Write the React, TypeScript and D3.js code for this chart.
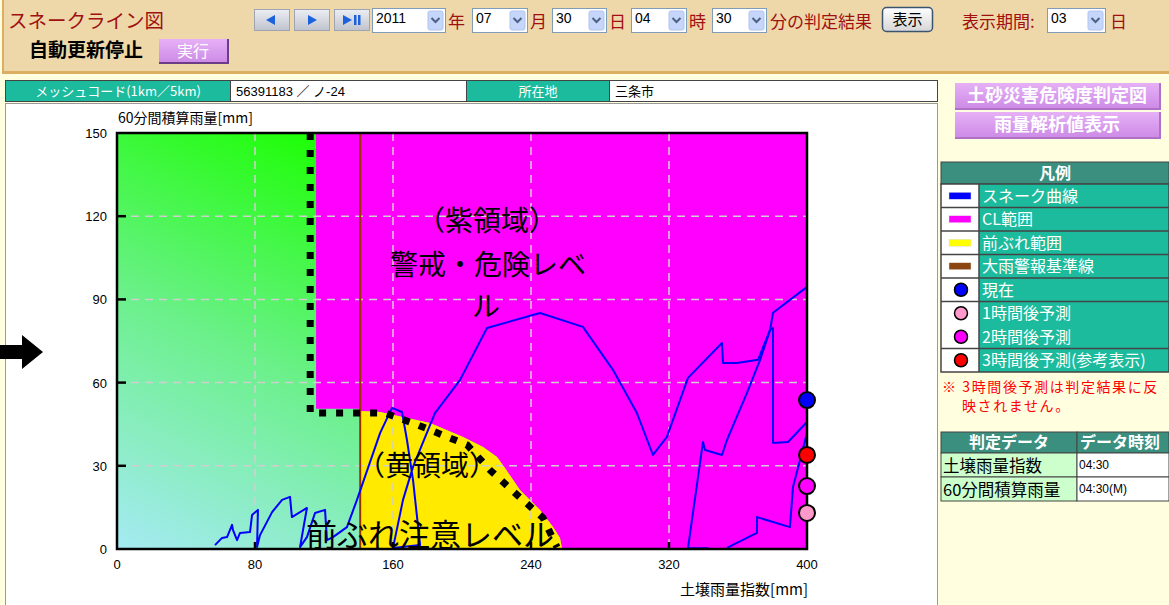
import * as d3 from 'd3';

// axis ticks and grid
const xTicks = [0, 80, 160, 240, 320, 400];
const yTicks = [0, 30, 60, 90, 120, 150];
const gridX = [80, 160, 240, 320];
const gridY = [30, 60, 90, 120];

// snake curve: [土壌雨量指数, 60分間積算雨量]
const snakeMain: [number, number][] = [
  [56.8, 1.4], [60.9, 4.0], [63.8, 4.3], [66.7, 8.7], [67.2, 6.9], [69.6, 3.2], [71.3, 5.8],
  [77.1, 6.1], [78.3, 12.3], [81.7, 14.1], [81.2, 0.7], [82.9, 5.0], [89.9, 13.3], [95.7, 17.7],
  [100.3, 18.8], [101.4, 11.5], [110.1, 14.8], [106.1, 0.7], [110.1, 4.3], [114.8, 13.0],
  [120.6, 14.1], [121.7, 3.2], [125.2, 4.3], [133.3, 7.9], [139.1, 17.7], [152.5, 41.8],
  [159.4, 50.9], [165.2, 49.4], [168.1, 39.3], [171.6, 24.9], [175.7, 1.4], [160.0, 0.4],
  [165.8, 17.7], [171.6, 29.6], [184.3, 49.0], [198.8, 60.9], [214.5, 79.7], [245.2, 85.1],
  [270.1, 80.1], [287.5, 64.6], [301.4, 49.0], [310.7, 33.9], [318.8, 40.4], [326.4, 53.7],
  [331.0, 61.7], [350.7, 74.3], [351.3, 67.1], [359.4, 67.1], [371.6, 68.2], [378.6, 79.0],
  [380.3, 85.2], [400, 94.5],
];
const snakeRightA: [number, number][] = [
  [343, 0.3], [331.0, 0.3], [339.7, 38.6], [340.9, 35.7], [350.7, 33.9], [353.6, 39.3],
  [365.2, 56.3], [372.8, 68.2], [378.6, 79.0], [380.3, 79.7], [380.3, 38.2], [389.0, 38.6],
  [400, 45.8],
];
const snakeRightB: [number, number][] = [
  [353.6, 0.4], [371.0, 5.8], [371.0, 11.5], [390.1, 7.9], [391.9, 22.4], [400, 41.8],
];

// CL line (dotted) and edge of the yellow area
const clLine: [number, number][] = [
  [112, 150], [112, 49], [155.4, 49], [174.5, 44.7], [193, 40], [203, 37.5], [216.2, 28.5],
  [231.9, 19.5], [247, 11.2], [255.1, 0.6],
];
const yellowEdge: [number, number][] = [
  [141, 49.8], [152.5, 49.4], [181.4, 45.4], [200.6, 40.4], [212.2, 36.8], [220.3, 33.2],
  [224.9, 29.2], [233.6, 21.3], [245.2, 14.1], [252.8, 7.9], [256.8, 4.0], [258, 0],
];
const clLeft = 115.4;
const clBottom = 50.6;
const heavyRainLine = 141;

// current value and forecasts (clamped to the right edge)
const markerKeys = ['now', 'h3', 'h2', 'h1'];
const markerX = [400, 400, 400, 400];
const markerY = [53.7, 33.9, 22.7, 13.0];
const markerColor: Record<string, string> = { now: '#0000ff', h3: '#ff0000', h2: '#ff00ff', h1: '#ff99cc' };

// legend
const legendLabels = ['スネーク曲線', 'CL範囲', '前ぶれ範囲', '大雨警報基準線', '現在', '1時間後予測', '2時間後予測', '3時間後予測(参考表示)'];
const legendKinds = ['rect', 'rect', 'rect', 'rect', 'dot', 'dot', 'dot', 'dot'];
const legendColors = ['#0000ff', '#ff00ff', '#ffff00', '#8b4513', '#0000ff', '#ff99cc', '#ff00ff', '#ff0000'];

// judgement table
const judgeNames = ['土壌雨量指数', '60分間積算雨量'];
const judgeTimes = ['04:30', '04:30(M)'];

const JP = "'Noto Sans CJK JP', sans-serif";
const LAT = "'Liberation Sans', 'Noto Sans CJK JP', sans-serif";
const DARKRED = '#a01010';
const TEAL = '#1cbb9d';

const plot = { left: 117, right: 807, top: 133, bottom: 549 };
const x = d3.scaleLinear().domain([0, 400]).range([plot.left, plot.right]);
const y = d3.scaleLinear().domain([0, 150]).range([plot.bottom, plot.top]);
const line = d3.line<[number, number]>().x(d => x(d[0])).y(d => y(d[1]));

const Select = ({ px, py, w, v }: { px: number; py: number; w: number; v: string }) => (
  <g>
    <rect x={px + 0.5} y={py + 0.5} width={w} height={24} fill="#fff" stroke="#7f9db9" />
    <rect x={px + w - 17} y={py + 3} width={15} height={19} rx={2} fill="#c6d6fb" stroke="#b0c4ee" />
    <path d={`M${px + w - 13.5},${py + 10} l4,4 l4,-4`} stroke="#4d6185" strokeWidth={2} fill="none" />
    <text x={px + 4} y={py + 15} fontSize={14} fontFamily={LAT}>{v}</text>
  </g>
);

const NavButton = ({ px, kind }: { px: number; kind: string }) => (
  <g>
    <rect x={px + 0.5} y={9.5} width={35} height={21} fill="url(#navGrad)" stroke="#9ea4b2" />
    {kind === 'prev' && <path d={`M${px + 12},20 l9,-5 v10 z`} fill="#1b62dc" />}
    {kind === 'next' && <path d={`M${px + 14},15 l9,5 l-9,5 z`} fill="#1b62dc" />}
    {kind === 'last' && (
      <g fill="#1b62dc">
        <path d={`M${px + 9},15 l9,5 l-9,5 z`} />
        <rect x={px + 20} y={15} width={2.5} height={10} />
        <rect x={px + 24} y={15} width={2.5} height={10} />
      </g>
    )}
  </g>
);

export default function App() {
  const magenta: [number, number][] = [
    [clLeft, 150], [400, 150], [400, 0],
    ...yellowEdge.slice().reverse(),
    [heavyRainLine, clBottom], [clLeft, clBottom],
  ];
  const yellow: [number, number][] = [[heavyRainLine, 0], ...yellowEdge];
  const legendTop = 184;
  const rowH = 23.5;

  return (
    <svg width={1169} height={605} style={{ position: 'absolute', left: 0, top: 0 }} fontFamily={JP}>
      <defs>
        <linearGradient id="greenGrad" gradientUnits="userSpaceOnUse" x1={117} y1={560} x2={330} y2={133}>
          <stop offset="0" stopColor="#a8eaf8" />
          <stop offset="0.5" stopColor="#6cf08c" />
          <stop offset="1" stopColor="#1aff00" />
        </linearGradient>
        <linearGradient id="navGrad" x1="0" y1="0" x2="0" y2="1">
          <stop offset="0" stopColor="#eceef3" />
          <stop offset="1" stopColor="#bfc3cd" />
        </linearGradient>
        <linearGradient id="btnGrad" x1="0" y1="0" x2="0" y2="1">
          <stop offset="0" stopColor="#ffffff" />
          <stop offset="1" stopColor="#d6d6d6" />
        </linearGradient>
        <linearGradient id="purpleGrad" x1="0" y1="0" x2="0" y2="1">
          <stop offset="0" stopColor="#e6b0f6" />
          <stop offset="1" stopColor="#cc8ae6" />
        </linearGradient>
        <clipPath id="plotClip">
          <rect x={plot.left} y={plot.top} width={plot.right - plot.left} height={plot.bottom - plot.top} />
        </clipPath>
      </defs>

      {/* page */}
      <rect width={1169} height={605} fill="#ffffe0" />

      {/* header */}
      <rect x={2} y={0} width={1167} height={72} fill="#eed8aa" />
      <line x1={3} y1={0} x2={3} y2={73} stroke="#dcae62" strokeWidth={2} />
      <line x1={2} y1={72.5} x2={1169} y2={72.5} stroke="#dcae62" strokeWidth={3} />
      <text x={8} y={28} fontSize={19.5} fill={DARKRED}>スネークライン図</text>
      <NavButton px={254} kind="prev" />
      <NavButton px={294} kind="next" />
      <NavButton px={334} kind="last" />
      <Select px={372} py={8} w={73} v="2011" />
      <text x={448} y={28} fontSize={17} fill={DARKRED}>年</text>
      <Select px={472} py={8} w={55} v="07" />
      <text x={530} y={28} fontSize={17} fill={DARKRED}>月</text>
      <Select px={552} py={8} w={54} v="30" />
      <text x={609} y={28} fontSize={17} fill={DARKRED}>日</text>
      <Select px={631} py={8} w={55} v="04" />
      <text x={689} y={28} fontSize={17} fill={DARKRED}>時</text>
      <Select px={712} py={8} w={54} v="30" />
      <text x={770} y={28} fontSize={17} fill={DARKRED}>分の判定結果</text>
      <rect x={882.5} y={7.5} width={50} height={24} rx={4} fill="url(#btnGrad)" stroke="#3a5470" strokeWidth={1.5} />
      <text x={907.5} y={25} fontSize={15} textAnchor="middle">表示</text>
      <text x={962} y={28} fontSize={17} fill={DARKRED}>表示期間:</text>
      <Select px={1047} py={8} w={58} v="03" />
      <text x={1110} y={28} fontSize={17} fill={DARKRED}>日</text>
      <text x={29} y={57} fontSize={19} fontWeight="bold">自動更新停止</text>
      <rect x={159} y={39} width={69} height={24} fill="url(#purpleGrad)" />
      <path d="M159,63 h69 v-24" fill="none" stroke="#6b3d86" strokeWidth={2} />
      <text x={193} y={57} fontSize={16} fill="#fff" textAnchor="middle">実行</text>

      {/* info row */}
      <rect x={5.5} y={80.5} width={225} height={21} fill={TEAL} stroke="#444" />
      <text x={118} y={96} fontSize={13} fill="#fff" textAnchor="middle">メッシュコード(1km／5km)</text>
      <rect x={230.5} y={80.5} width={236} height={21} fill="#fff" stroke="#444" />
      <text x={236} y={96} fontSize={13} fontFamily={LAT}>56391183 ／ ノ-24</text>
      <rect x={466.5} y={80.5} width={143} height={21} fill={TEAL} stroke="#444" />
      <text x={538} y={96} fontSize={13} fill="#fff" textAnchor="middle">所在地</text>
      <rect x={609.5} y={80.5} width={328} height={21} fill="#fff" stroke="#444" />
      <text x={615} y={96} fontSize={13}>三条市</text>

      {/* chart panel */}
      <rect x={5.5} y={103.5} width={932} height={505} fill="#fff" stroke="#999" />
      <path d="M0,345 H22 V335 L43,352 L22,369 V359 H0 Z" fill="#000" />

      {/* regions */}
      <rect x={plot.left} y={plot.top} width={plot.right - plot.left} height={plot.bottom - plot.top} fill="url(#greenGrad)" />
      <path d={line(magenta) + 'Z'} fill="#ff00ff" />
      <path d={line(yellow) + 'Z'} fill="#ffea00" />

      {/* grid */}
      {gridX.map(v => (
        <line key={'gx' + v} x1={x(v)} x2={x(v)} y1={plot.top} y2={plot.bottom} stroke="#cfcfcf" strokeWidth={1.5} strokeDasharray="8,6" />
      ))}
      {gridY.map(v => (
        <line key={'gy' + v} x1={plot.left} x2={plot.right} y1={y(v)} y2={y(v)} stroke="#cfcfcf" strokeWidth={1.5} strokeDasharray="8,6" />
      ))}

      {/* heavy rain warning line */}
      <line x1={x(heavyRainLine)} x2={x(heavyRainLine)} y1={plot.top} y2={plot.bottom} stroke="#993300" strokeWidth={2} />

      {/* snake curve */}
      <g clipPath="url(#plotClip)" fill="none" stroke="#0000ff" strokeWidth={2} strokeLinejoin="round">
        <path d={line(snakeMain) ?? ''} />
        <path d={line(snakeRightA) ?? ''} />
        <path d={line(snakeRightB) ?? ''} />
      </g>

      {/* CL line */}
      <path d={line(clLine) ?? ''} fill="none" stroke="#000" strokeWidth={7} strokeDasharray="7,10" />

      {/* region labels */}
      <g fontSize={28} textAnchor="middle" fill="#000">
        <text x={487} y={231}>（紫領域）</text>
        <text x={488} y={275}>警戒・危険レベ</text>
        <text x={486} y={317}>ル</text>
        <text x={427} y={476}>（黄領域）</text>
        <text x={430} y={546} fontSize={31}>前ぶれ注意レベル</text>
      </g>

      {/* frame and ticks */}
      <rect x={plot.left} y={plot.top} width={plot.right - plot.left} height={plot.bottom - plot.top} fill="none" stroke="#000" strokeWidth={2.5} />
      {yTicks.slice(1, -1).map(v => (
        <line key={'ty' + v} x1={plot.left} x2={plot.left + 9} y1={y(v)} y2={y(v)} stroke="#000" strokeWidth={2.5} />
      ))}
      {xTicks.slice(1, -1).map(v => (
        <line key={'tx' + v} x1={x(v)} x2={x(v)} y1={plot.bottom} y2={plot.bottom - 7} stroke="#000" strokeWidth={2.5} />
      ))}
      <g fontFamily={LAT} fontSize={13} fill="#000">
        {yTicks.map(v => (
          <text key={'ly' + v} x={plot.left - 10} y={y(v) + 5} textAnchor="end">{v}</text>
        ))}
        {xTicks.map(v => (
          <text key={'lx' + v} x={x(v)} y={569} textAnchor="middle">{v}</text>
        ))}
      </g>
      <text x={118} y={123} fontSize={14}>60分間積算雨量[mm]</text>
      <text x={808} y={595} fontSize={15} textAnchor="end">土壌雨量指数[mm]</text>

      {/* markers */}
      {markerKeys.map((k, i) => (
        <circle key={k} cx={x(markerX[i])} cy={y(markerY[i])} r={8} fill={markerColor[k]} stroke="#000" strokeWidth={2} />
      ))}

      {/* right panel buttons */}
      {['土砂災害危険度判定図', '雨量解析値表示'].map((t, i) => (
        <g key={t}>
          <rect x={955} y={83 + i * 29} width={205} height={26} fill="url(#purpleGrad)" />
          <path d={`M955,${109 + i * 29} h205 v-26`} fill="none" stroke="#b070c8" strokeWidth={2} />
          <text x={1057} y={102 + i * 29} fontSize={18} fontWeight="bold" fill="#fff" textAnchor="middle">{t}</text>
        </g>
      ))}

      {/* legend */}
      <rect x={941} y={162} width={228} height={22} fill="#3a8f7f" stroke="#444" />
      <text x={1055} y={179} fontSize={16} fontWeight="bold" fill="#fff" textAnchor="middle">凡例</text>
      <rect x={941} y={legendTop} width={38} height={rowH * 8} fill="#fff" />
      <rect x={979} y={legendTop} width={190} height={rowH * 8} fill={TEAL} />
      {legendLabels.map((t, i) => {
        const top = legendTop + i * rowH;
        const cy = top + rowH / 2;
        return (
          <g key={t}>
            {i > 0 && i !== 6 && <line x1={941} x2={1169} y1={top} y2={top} stroke="#444" strokeWidth={1.5} />}
            {legendKinds[i] === 'rect' ? (
              <rect x={949} y={cy - 3.5} width={22} height={7} fill={legendColors[i]} stroke="#ddd" strokeWidth={0.5} />
            ) : (
              <circle cx={961} cy={cy} r={6.5} fill={legendColors[i]} stroke="#000" strokeWidth={1.5} />
            )}
            <text x={982} y={cy + 6} fontSize={16} fill="#fff">{t}</text>
          </g>
        );
      })}
      <rect x={941} y={legendTop} width={228} height={rowH * 8} fill="none" stroke="#444" strokeWidth={1.5} />
      <line x1={979} x2={979} y1={legendTop} y2={legendTop + rowH * 8} stroke="#444" strokeWidth={1.5} />

      {/* note */}
      <text x={942} y={392} fontSize={14} letterSpacing={1.6} fill="#ff0000">※ 3時間後予測は判定結果に反</text>
      <text x={962} y={411} fontSize={14} letterSpacing={1.6} fill="#ff0000">映されません。</text>

      {/* judgement data table */}
      <rect x={941} y={432} width={136} height={21} fill="#3a8f7f" stroke="#444" />
      <rect x={1077} y={432} width={92} height={21} fill="#3a8f7f" stroke="#444" />
      <text x={1009} y={448} fontSize={16} fontWeight="bold" fill="#fff" textAnchor="middle">判定データ</text>
      <text x={1080} y={448} fontSize={16} fontWeight="bold" fill="#fff">データ時刻</text>
      {judgeNames.map((t, i) => (
        <g key={t}>
          <rect x={941} y={453 + i * 24} width={136} height={24} fill="#ccffcc" stroke="#444" />
          <rect x={1077} y={453 + i * 24} width={92} height={24} fill="#fff" stroke="#444" />
          <text x={943} y={472 + i * 24} fontSize={16.5}>{t}</text>
          <text x={1079} y={469 + i * 24} fontSize={12} fontFamily={LAT}>{judgeTimes[i]}</text>
        </g>
      ))}
    </svg>
  );
}
